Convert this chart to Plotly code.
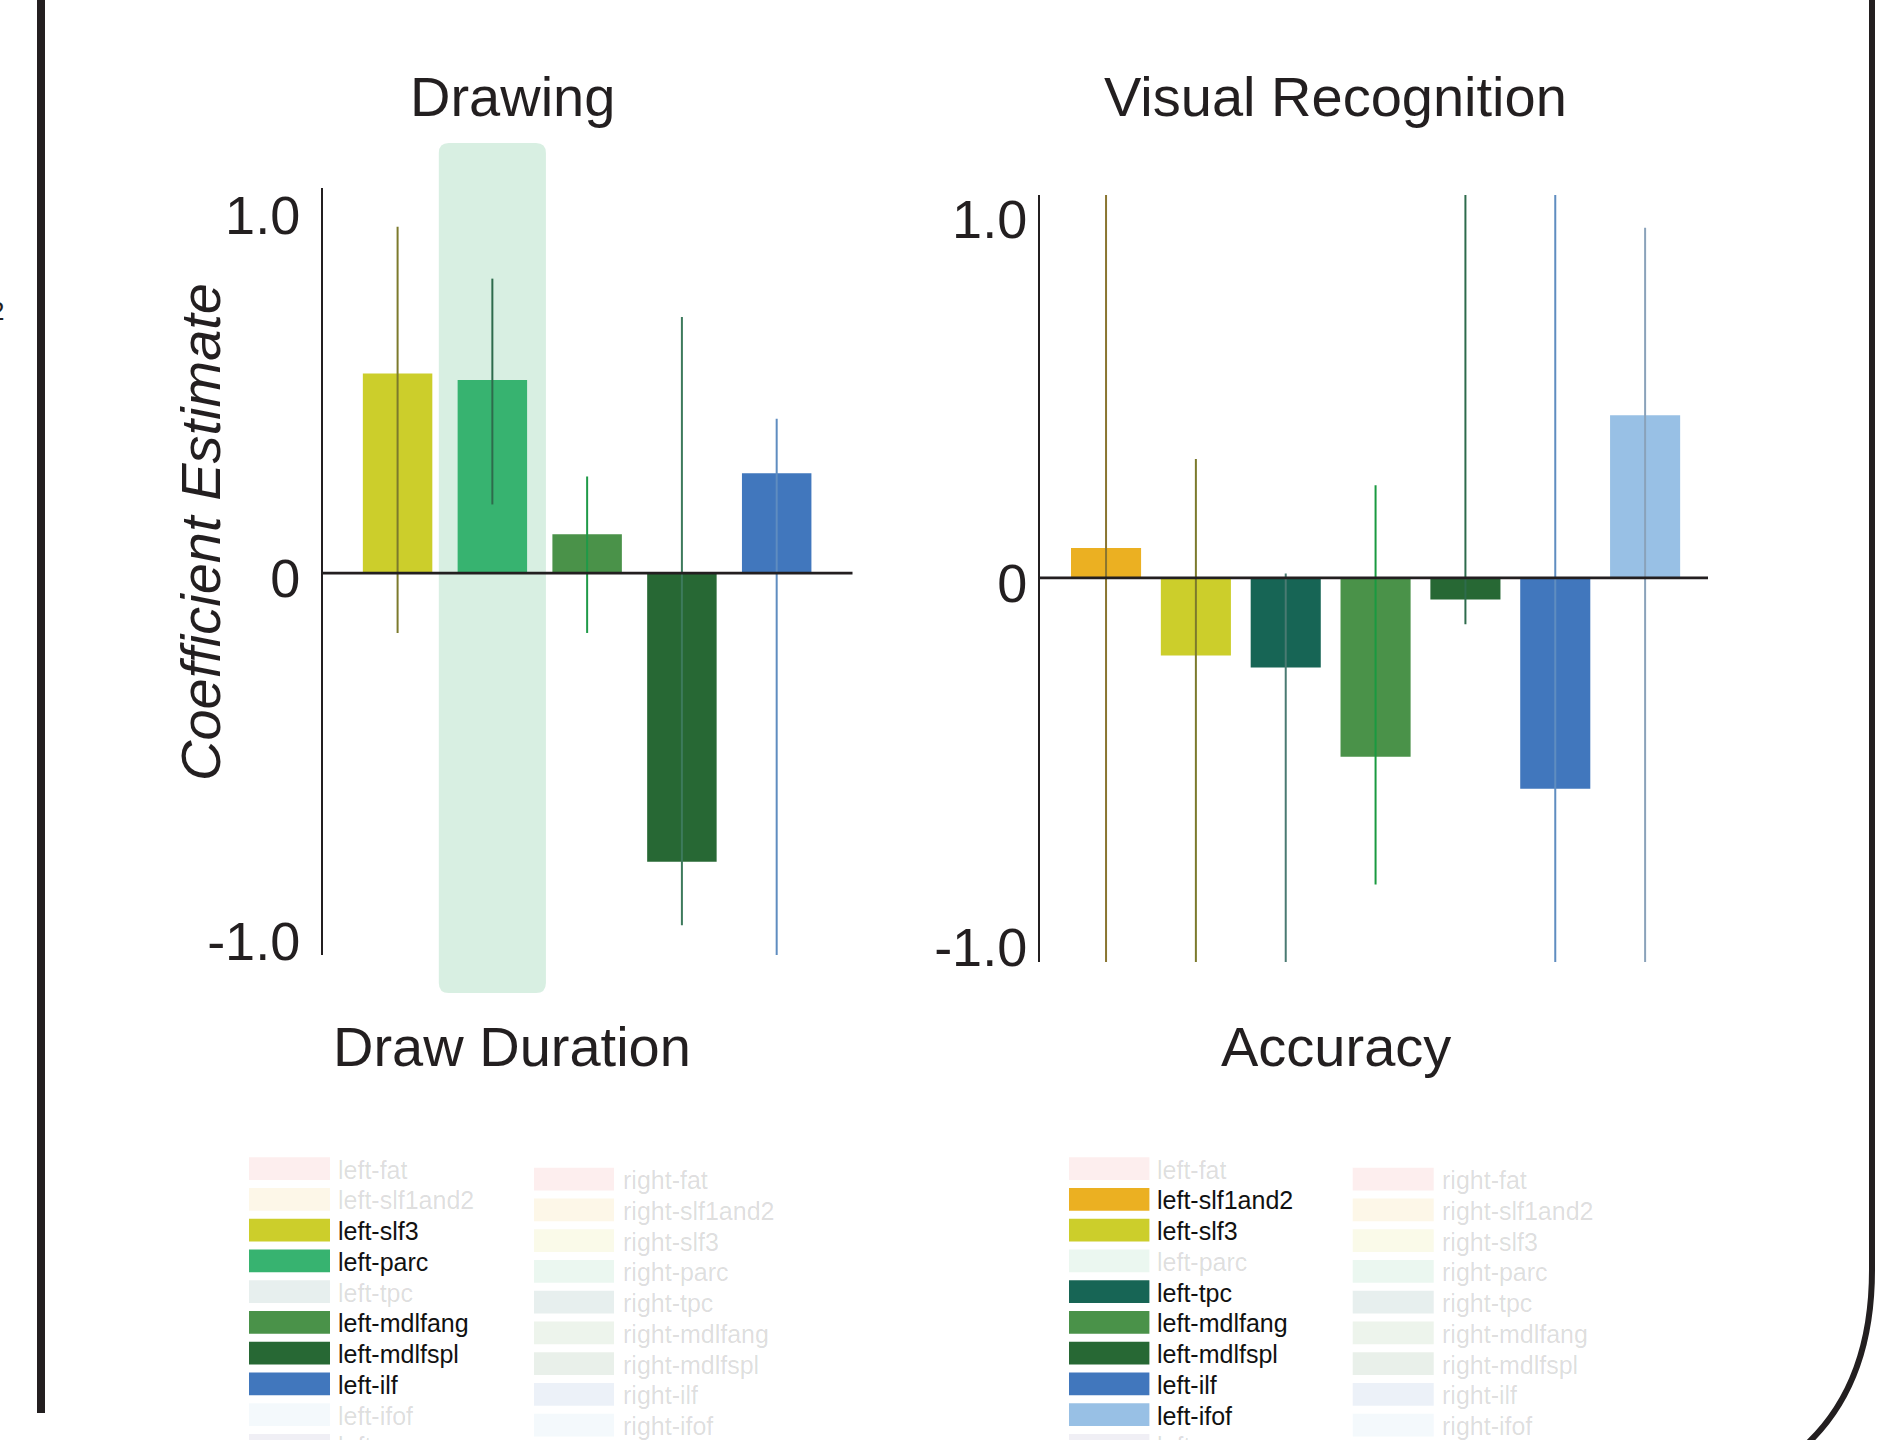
import plotly.graph_objects as go

W, H = 1877, 1440

# ---------------- data ----------------
draw_categories = ["left-slf3", "left-parc", "left-mdlfang", "left-mdlfspl", "left-ilf"]
draw_coef = [0.55, 0.532, 0.107, -0.795, 0.275]
draw_ci_low = [-0.165, 0.189, -0.165, -0.970, -1.069]
draw_ci_high = [0.954, 0.811, 0.266, 0.705, 0.425]
draw_err_colors = ["#7C7A2C", "#2E6B4C", "#1F9A48", "#3D7A5C", "#5F8DC0"]

recog_categories = ["left-slf1and2", "left-slf3", "left-tpc", "left-mdlfang",
                    "left-mdlfspl", "left-ilf", "left-ifof"]
recog_coef = [0.082, -0.213, -0.246, -0.491, -0.059, -0.579, 0.447]
recog_ci_low = [-1.1, -1.1, -1.1, -0.842, -0.127, -1.1, -1.1]
recog_ci_high = [1.1, 0.327, 0.012, 0.255, 1.1, 1.1, 0.962]
recog_err_colors = ["#8A7530", "#7C7A2C", "#4A7A72", "#1A9A40", "#2E6B4C", "#5F8DC0", "#8AA2BA"]

highlighted_tract = "left-parc"

tract_names = ["fat", "slf1and2", "slf3", "parc", "tpc", "mdlfang", "mdlfspl", "ilf", "ifof", "unc"]
tract_base_colors = ["#E8585C", "#EBB022", "#CCCE2B", "#37B370", "#176555",
                     "#4A9249", "#276834", "#4177BD", "#98C0E5", "#6A5F9B"]
left_tracts = ["left-" + t for t in tract_names]
right_tracts = ["right-" + t for t in tract_names]
color_of = {}
for t, c in zip(tract_names, tract_base_colors):
    color_of["left-" + t] = c
    color_of["right-" + t] = c

tick_vals = [-1.0, 0.0, 1.0]
tick_text = ["-1.0", "0", "1.0"]

INK = "#231f20"
FONT = "Liberation Sans, Arial, Helvetica, sans-serif"


def fx(p):
    return p / W


def fy(p):
    return 1 - p / H


def rgba(hexc, a):
    h = hexc.lstrip("#")
    r, g, b = int(h[0:2], 16), int(h[2:4], 16), int(h[4:6], 16)
    return f"rgba({r},{g},{b},{a})"


fig = go.Figure()

panels = [
    dict(cats=draw_categories, coef=draw_coef, lo=draw_ci_low, hi=draw_ci_high,
         ecol=draw_err_colors, xa="x", ya="y", width=0.733, clip=False),
    dict(cats=recog_categories, coef=recog_coef, lo=recog_ci_low, hi=recog_ci_high,
         ecol=recog_err_colors, xa="x2", ya="y2", width=0.78, clip=True),
]
for p in panels:
    for c, v, lo, hi, ec in zip(p["cats"], p["coef"], p["lo"], p["hi"], p["ecol"]):
        fig.add_trace(go.Bar(
            x=[c], y=[v], width=p["width"],
            marker=dict(color=color_of[c], line=dict(width=0)),
            error_y=dict(type="data", symmetric=False, array=[hi - v], arrayminus=[v - lo],
                         color=ec, thickness=2, width=0),
            xaxis=p["xa"], yaxis=p["ya"], showlegend=False, hoverinfo="x+y",
            cliponaxis=p["clip"],
        ))

common_x = dict(showticklabels=False, showgrid=False, zeroline=False, showline=False,
                ticks="", type="category", categoryorder="array", fixedrange=True,
                automargin=False)
common_y = dict(tickvals=tick_vals, ticktext=tick_text, showline=True, linecolor=INK,
                linewidth=2, ticks="", showgrid=False, zeroline=False,
                tickfont=dict(size=54, color=INK, family=FONT), fixedrange=True,
                automargin=False, ticklabelshift=5)

fig.update_layout(
    width=W, height=H, autosize=False,
    margin=dict(l=0, r=0, t=0, b=0, pad=0, autoexpand=False),
    showlegend=False,
    paper_bgcolor="white", plot_bgcolor="rgba(0,0,0,0)",
    barmode="overlay", font=dict(family=FONT, color=INK),
    xaxis=dict(domain=[fx(323), fx(852.5)], range=[-0.787, 4.80],
               categoryarray=draw_categories, anchor="y", **common_x),
    yaxis=dict(domain=[fy(955), fy(187.5)], range=[-1.052, 1.062], anchor="x",
               ticklabelstandoff=10, **common_y),
    xaxis2=dict(domain=[fx(1040), fx(1708)], range=[-0.735, 6.70],
                categoryarray=recog_categories, anchor="y2", **common_x),
    yaxis2=dict(domain=[fy(962), fy(195)], range=[-1.055, 1.052], anchor="x2",
                ticklabelstandoff=0, **common_y),
)

shapes = []
annotations = []

# zero lines
for xa, ya in [("x", "y"), ("x2", "y2")]:
    shapes.append(dict(type="line", xref=f"{xa} domain", yref=ya, x0=0, x1=1, y0=0, y1=0,
                       line=dict(color=INK, width=2.7), layer="above"))

# highlight behind the emphasised tract (left panel)
hi_idx = draw_categories.index(highlighted_tract)
half = 0.565
x0, x1 = hi_idx - half, hi_idx + half
yt, yb = fy(143), fy(993)
rx, ry = 10 / 94.77, 10 / H
path = (f"M {x0+rx},{yt} L {x1-rx},{yt} Q {x1},{yt} {x1},{yt-ry} L {x1},{yb+ry} "
        f"Q {x1},{yb} {x1-rx},{yb} L {x0+rx},{yb} Q {x0},{yb} {x0},{yb+ry} "
        f"L {x0},{yt-ry} Q {x0},{yt} {x0+rx},{yt} Z")
shapes.append(dict(type="path", xref="x", yref="paper", path=path,
                   fillcolor="#D8EFE2", line=dict(width=0), layer="below"))

# titles
for txt, cx, cy in [("Drawing", 512.4, 97), ("Visual Recognition", 1335, 97),
                    ("Draw Duration", 512.4, 1046), ("Accuracy", 1336, 1046)]:
    annotations.append(dict(text=txt, x=fx(cx), y=fy(cy), xref="paper", yref="paper",
                            xanchor="center", yanchor="middle", showarrow=False,
                            font=dict(size=56, color=INK, family=FONT)))

annotations.append(dict(text="<i>Coefficient Estimate</i>", x=fx(200), y=fy(532),
                        xref="paper", yref="paper", xanchor="center", yanchor="middle",
                        textangle=-90, showarrow=False,
                        font=dict(size=56, color=INK, family=FONT)))

# legends (swatch + label), built from tract lists
pitch, sw_h = 30.75, 22.7
legend_blocks = [
    (draw_categories, [(left_tracts, 249, 330, 336, 1157.3), (right_tracts, 534, 614, 621, 1167.7)]),
    (recog_categories, [(left_tracts, 1069, 1149.4, 1155, 1157.3), (right_tracts, 1352.7, 1433.7, 1440, 1167.7)]),
]
for active, cols in legend_blocks:
    for names, sx0, sx1, tx, top in cols:
        for k, name in enumerate(names):
            ytop = top + k * pitch
            on = name in active
            fill = color_of[name] if on else rgba(color_of[name], 0.1)
            shapes.append(dict(type="rect", xref="paper", yref="paper",
                               x0=fx(sx0), x1=fx(sx1), y0=fy(ytop + sw_h), y1=fy(ytop),
                               fillcolor=fill, line=dict(width=0), layer="above"))
            annotations.append(dict(text=name, x=fx(tx), y=fy(ytop + sw_h / 2 + 1),
                                    xref="paper", yref="paper", xanchor="left",
                                    yanchor="middle", showarrow=False,
                                    font=dict(size=25, family=FONT,
                                              color="#111111" if on else "rgba(0,0,0,0.14)")))

# frame decorations
shapes.append(dict(type="line", xref="paper", yref="paper", x0=fx(41), x1=fx(41),
                   y0=fy(-5), y1=fy(1413), line=dict(color=INK, width=8), layer="above"))
rpath = (f"M {fx(1872)},{fy(-10)} L {fx(1872)},{fy(1270)} "
         f"Q {fx(1872)},{fy(1390)} {fx(1798)},{fy(1452)}")
shapes.append(dict(type="path", xref="paper", yref="paper", path=rpath,
                   line=dict(color=INK, width=6), layer="above"))
annotations.append(dict(text="2", x=fx(6), y=fy(311), xref="paper", yref="paper",
                        xanchor="right", yanchor="middle", showarrow=False,
                        font=dict(size=26, color=INK, family=FONT)))

fig.update_layout(shapes=shapes, annotations=annotations)

post = ("document.documentElement.style.margin='0';"
        "document.documentElement.style.overflow='hidden';"
        "document.body.style.margin='0';document.body.style.overflow='hidden';"
        "var gd=document.getElementById('{plot_id}');"
        "gd.style.position='fixed';gd.style.top='0px';gd.style.left='0px';")

fig.write_html("out.html", config={"displayModeBar": False}, post_script=post)
